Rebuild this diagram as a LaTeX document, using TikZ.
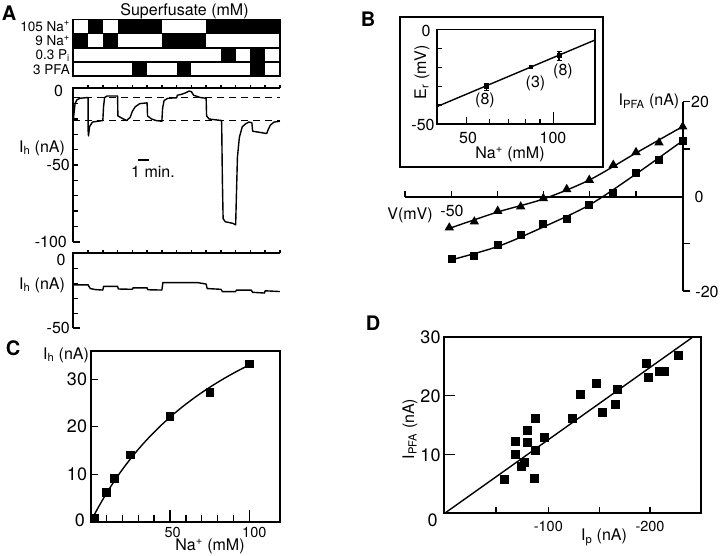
\documentclass[tikz,border=0pt]{standalone}
\usepackage{fontspec}
\setmainfont{TeX Gyre Heros}
\usetikzlibrary{shapes.geometric}
\newcommand\fsz[1]{\fontsize{#1}{#1}\selectfont}
\begin{document}
\begin{tikzpicture}[x=1pt,y=-1pt,
  ax/.style={line width=1.7pt},
  tk/.style={line width=1.4pt},
  crv/.style={line width=1.4pt, line join=round},
  dsh/.style={line width=1.5pt, dash pattern=on 7pt off 5pt},
  sq/.style={rectangle, fill=black, inner sep=0pt, minimum size=#1},
  sq/.default=8.5pt,
  tri/.style={regular polygon, regular polygon sides=3, fill=black, inner sep=0pt, minimum size=11pt},
  tx/.style={font=\fsz{#1}, inner sep=0pt},
  tx/.default=16,
  plet/.style={font=\fsz{20}\bfseries, inner sep=0pt}]
\useasboundingbox (0,0) rectangle (720,555);

% ===================== Panel A =====================
\node[plet] (la) at (9,13) {A};
\node[tx=16, anchor=base] (sup) at (184.5,15) {Superfusate (mM)};
\node[tx=13.5, anchor=base east] (r1) at (70,31) {105 Na\textsuperscript{+}};
\node[tx=13.5, anchor=base east] (r2) at (70,45.5) {9 Na\textsuperscript{+}};
\node[tx=13.5, anchor=base east] (r3) at (70,59.5) {0.3 P\textsubscript{i}};
\node[tx=13.5, anchor=base east] (r4) at (70,74) {3 PFA};

\begin{scope}[shift={(73.3,0)}, xscale=14.76]
  \fill (1,19.5) rectangle (2,33.5);
  \fill (3,19.5) rectangle (6,33.5);
  \fill (9,19.5) rectangle (14,33.5);
  \fill (0,33.5) rectangle (1,47.5);
  \fill (2,33.5) rectangle (3,47.5);
  \fill (6,33.5) rectangle (9,47.5);
  \fill (10,48.5) rectangle (11,62);
  \fill (12,48.5) rectangle (13,62);
  \fill (4,62.5) rectangle (5,76);
  \fill (7,62.5) rectangle (8,76);
  \fill (12,62.5) rectangle (13,76);
  \draw[ax] (0,19.5) rectangle (14,47.5);
  \draw[ax] (0,33.5) -- (14,33.5);
  \draw[ax] (0,48.5) rectangle (14,62);
  \draw[ax] (0,62.5) rectangle (14,76);
\end{scope}

% upper trace
\begin{scope}[shift={(73.3,88.3)}, xscale=14.76, yscale=-1.534]
  \draw[ax] (0,-100) -- (0,0) -- (14,0);
  \foreach \t in {1,...,14} \draw[tk] (\t,0) -- (\t,2.2);
  \foreach \v in {-10,-20,...,-90} \draw[tk] (0,\v) -- (0.3,\v);
  \draw[ax] (0,-100) -- (0.45,-100);
  \draw[dsh] (0,-6) -- (14,-6);
  \draw[dsh] (0,-21) -- (14,-21);
  \draw[crv] plot coordinates {(0,-21) (0.05,-16) (0.12,-10) (0.25,-7.5) (0.45,-6.5) (1.0,-6)
    (1.0,-27) (1.03,-31) (1.1,-25) (1.3,-22) (2.0,-21) (2.05,-12) (2.12,-6) (2.3,-5) (3.0,-5)
    (3.02,-18) (3.3,-19.5) (3.6,-21) (3.85,-19) (4.0,-15) (4.2,-12) (4.5,-10) (5.0,-9.5)
    (5.03,-18) (5.3,-20) (5.6,-21) (6.0,-21.5) (6.05,-13) (6.15,-8) (6.4,-6.5) (7.0,-6.2)
    (7.05,-4.5) (7.3,-4) (7.6,-3) (7.85,-1.8) (8.0,-2.2) (8.15,-4.5) (8.6,-6) (9.0,-6.5)
    (9.03,-18) (9.2,-20) (9.6,-20.5) (10.05,-21) (10.1,-60) (10.15,-85) (10.3,-87) (10.8,-88)
    (11.0,-89) (11.05,-70) (11.12,-45) (11.25,-32) (11.45,-25) (11.7,-23) (11.9,-22)
    (12.1,-22.5) (12.15,-28) (12.5,-28.5) (13.1,-29.5) (13.2,-27) (13.35,-24) (13.6,-22) (14,-21.5)};
\end{scope}
\node[tx] (a0) at (58.5,90.5) {0};
\node[tx, anchor=east] (a50) at (70,165) {-50};
\node[tx, anchor=east] (a100) at (67,241.5) {-100};
\node[tx] (aih) at (42,148) {I\textsubscript{h} (nA)};
\coordinate (mb1) at (138.3,160);
\coordinate (mb2) at (149,160);
\draw[ax] (mb1) -- (mb2);
\node[tx] (amin) at (153,172) {1 min.};

% lower trace
\begin{scope}[shift={(73.3,253.3)}, xscale=14.76, yscale=-1.5]
  \draw[ax] (0,-50) -- (0,0) -- (14,0);
  \foreach \t in {1,...,14} \draw[tk] (\t,0) -- (\t,2.2);
  \foreach \v in {-10,-20,-30,-40} \draw[tk] (0,\v) -- (0.3,\v);
  \draw[ax] (0,-50) -- (0.45,-50);
  \draw[crv] plot coordinates {(0,-21) (1.0,-21) (1.15,-23.5) (1.5,-24.2) (2.0,-24.5)
    (2.05,-22) (3.0,-22) (3.05,-23.8) (4.0,-24) (4.05,-23) (5.0,-23) (5.05,-24.3) (6.0,-24.5)
    (6.07,-19.5) (8.4,-19.5) (9.0,-20.5) (9.07,-23.5) (10.0,-24) (10.1,-25.5) (11.0,-25.5)
    (11.05,-24.5) (12.05,-24.5) (12.15,-26) (12.95,-26.5) (13.0,-25) (14,-25.5)};
\end{scope}
\node[tx] (b0) at (61,259.5) {0};
\node[tx, anchor=east] (b50) at (70,328) {-50};
\node[tx] (bih) at (42,285) {I\textsubscript{h} (nA)};

% ===================== Panel B =====================
\node[plet] (lb) at (368,19) {B};
\draw[ax] (400,16.7) rectangle (603.3,166.7);
\draw[ax] (436.7,29.5) rectangle (595,124);
\foreach \y in {48.4,67.3,86.2,105.1} \draw[tk] (436.7,\y) -- (442,\y);
\foreach \x in {489.5,508.7,525.4,540.1} \draw[tk] (\x,124) -- (\x,119);
\draw[tk] (466.7,124) -- (466.7,117.3);
\draw[tk] (553.3,124) -- (553.3,112.3);
\coordinate (il1) at (436.7,106.7);
\coordinate (il2) at (595,40);
\draw[crv] (il1) -- (il2);
\node[sq=5pt] (e1) at (486.7,86.7) {};
\node[sq=4pt] (e2) at (531,66.7) {};
\node[sq=5pt] (e3) at (559,55.7) {};
\draw[tk] (486.7,83.2) -- (486.7,90.2) (484.2,83.2) -- (489.2,83.2) (484.2,90.2) -- (489.2,90.2);
\draw[tk] (559,51.2) -- (559,60.2) (556.5,51.2) -- (561.5,51.2) (556.5,60.2) -- (561.5,60.2);
\node[tx] (n1) at (485,100) {(8)};
\node[tx] (n2) at (535.5,83.3) {(3)};
\node[tx] (n3) at (563,71.7) {(8)};
\node[tx] (i0) at (426,31) {0};
\node[tx] (i50) at (423,125) {-50};
\node[tx] (ix50) at (468,138) {50};
\node[tx] (ix100) at (553,138) {100};
\node[tx] (ina) at (510,154.5) {Na\textsuperscript{+} (mM)};
\node[tx, rotate=90] (ier) at (422,72) {E\textsubscript{r} (mV)};

% IV plot
\draw[ax] (405,196.7) -- (682.7,196.7);
\draw[ax] (682.7,101.7) -- (682.7,291);
\foreach \x in {405,451.7,497.7,543.3,589.3,636} \draw[tk] (\x,196.7) -- (\x,191);
\foreach \y in {101.7,149,243.3,291} \draw[tk] (682.7,\y) -- (690,\y);
\draw[crv] plot[smooth] coordinates {(449,228.5) (497.7,212) (543.3,199) (589.3,180) (636,153) (682.7,126.5)};
\draw[crv] plot[smooth] coordinates {(449,260.5) (497.7,246.5) (543.3,227) (589.3,205) (636,174) (682.7,140.7)};
\foreach \x/\y in {449.3/227.7,474.3/221.7,497.7/211,520.7/206.7,543.3/198.3,566.7/189.3,589.3/180,613.3/165,636/152.3,659/142.7,682.7/126.7}
  \node[tri] at (\x,\y) {};
\foreach \x/\y in {451.7/259.3,474.3/255.7,497.7/245,520.7/235,543.3/224.3,566.7/219,589.3/205,613.3/193.3,636/173.3,659/160,682.7/140.7}
  \node[sq=8pt] at (\x,\y) {};
\node[tx] (vmv) at (410,215) {V(mV)};
\node[tx] (v50) at (452,210.5) {-50};
\node[tx] (ipfa) at (649,101.7) {I\textsubscript{PFA} (nA)};
\node[tx] (y20) at (700,101.7) {20};
\node[tx] (y0) at (699,197) {0};
\node[tx] (ym20) at (707,292) {-20};

% ===================== Panel C =====================
\node[plet] (lc) at (13,348) {C};
\draw[ax] (90.7,350.7) rectangle (280,521.7);
\begin{scope}[shift={(90.7,521.7)}, xscale=1.586, yscale=-4.75]
  \foreach \v in {10,20,30} \draw[tk] (0,\v) -- (4.4,\v);
  \foreach \n in {10,20,30,40,60,70,80,90} \draw[tk] (\n,0) -- (\n,1.4);
  \foreach \n in {50,100} \draw[tk] (\n,0) -- (\n,2.5);
  \draw[crv] plot[domain=0:100, samples=60] (\x,{66*\x/(100+\x)});
\end{scope}
\foreach \x/\y in {94.3/518.3,106.7/492.7,114.7/478.3,130.7/455,170/416.7,210/392.7,249.3/364}
  \node[sq=8.5pt] at (\x,\y) {};
\node[tx] (cih) at (66,355) {I\textsubscript{h} (nA)};
\node[tx=18] (c30) at (77,379) {30};
\node[tx=18] (c20) at (77,426.7) {20};
\node[tx=18] (c10) at (77,474) {10};
\node[tx=18] (c0) at (80,520.7) {0};
\node[tx=14.5] (c50) at (172.7,532.7) {50};
\node[tx=14.5] (c100) at (254.3,532.7) {100};
\node[tx] (cna) at (210,546.7) {Na\textsuperscript{+} (mM)};

% ===================== Panel D =====================
\node[plet] (ld) at (373,323) {D};
\draw[ax] (444.3,336.7) rectangle (700.7,512.7);
\foreach \y in {395.7,454.7} \draw[tk] (444.3,\y) -- (455,\y);
\foreach \x in {496,548.3,599.3,650} \draw[tk] (\x,512.7) -- (\x,506.7);
\coordinate (d0) at (445.5,512.7);
\coordinate (d1) at (693.3,336.7);
\draw[crv] (d0) -- (d1);
\foreach \x/\y in {504/479,515/441.7,515/454,521.7/466,524.3/462.3,527.3/430,527.3/442,535.7/418.3,535/450.7,534.3/478.7,544.3/437.7,572.7/418.3,580.7/394.7,596.7/383.3,602.7/412.3,615/404,617.7/389,646.7/363.3,648.3/377.3,659/371,664.3/371,678.3/355}
  \node[sq=9pt] at (\x,\y) {};
\node[tx=18] (d30) at (430.5,337) {30};
\node[tx=18] (d20) at (430.5,396) {20};
\node[tx=18] (d10) at (430.5,455) {10};
\node[tx=18] (dz) at (432.5,520) {0};
\node[tx=14.5] (dm100) at (548.3,526.7) {-100};
\node[tx=14.5] (dm200) at (650,526.7) {-200};
\node[tx] (dip) at (604,537.5) {I\textsubscript{p} (nA)};
\node[tx, rotate=90] (dipfa) at (410,429) {I\textsubscript{PFA} (nA)};
\end{tikzpicture}
\end{document}
